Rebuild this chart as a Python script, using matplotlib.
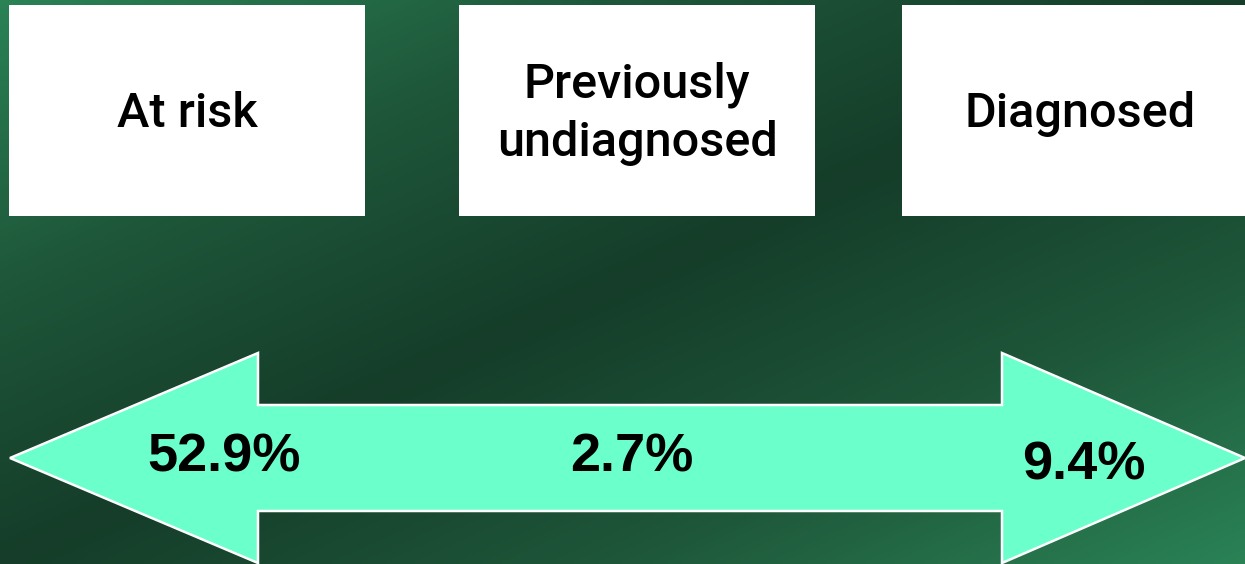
import numpy as np
import matplotlib
matplotlib.use("Agg")
import matplotlib.pyplot as plt
from matplotlib.colors import LinearSegmentedColormap
from matplotlib.patches import Polygon, Rectangle

W, H = 1245, 564

categories = ["At risk", "Previously\nundiagnosed", "Diagnosed"]
percent_labels = ["52.9%", "2.7%", "9.4%"]

fig = plt.figure(figsize=(W / 100, H / 100), dpi=100)
ax = fig.add_axes([0, 0, 1, 1])
ax.set_xlim(0, W)
ax.set_ylim(H, 0)
ax.axis("off")

# background: light at top-left and bottom-right, dark along the other diagonal
xx, yy = np.meshgrid(np.linspace(0, 1, 300), np.linspace(0, 1, 150))
t = np.abs((xx + yy) / 2 - 0.5) * 2
cmap = LinearSegmentedColormap.from_list("bg", ["#153d29", "#1e573a", "#2a8255"])
ax.imshow(t, cmap=cmap, extent=(0, W, H, 0), aspect="auto", interpolation="bicubic", zorder=0)

box_fonts = ["Roboto", "Liberation Sans", "DejaVu Sans"]
box_x = [9, 459, 902]
box_w = 356
for x0, name in zip(box_x, categories):
    ax.add_patch(Rectangle((x0, 5), box_w, 211, facecolor="white", edgecolor="none", zorder=2))
    ax.text(x0 + box_w / 2, 114, name, ha="center", va="center", fontsize=35,
            family=box_fonts, fontweight="medium", linespacing=1.32, zorder=3)

# double headed arrow
cy = 458
tip_l, tip_r = 10, 1245
head_l, head_r = 258, 1002
head_h, shaft_h = 105, 53
pts = [(tip_l, cy), (head_l, cy - head_h), (head_l, cy - shaft_h), (head_r, cy - shaft_h),
       (head_r, cy - head_h), (tip_r, cy), (head_r, cy + head_h), (head_r, cy + shaft_h),
       (head_l, cy + shaft_h), (head_l, cy + head_h)]
ax.add_patch(Polygon(pts, closed=True, facecolor="#6bffcc", edgecolor="white", linewidth=1.8, zorder=2))

label_pos = [(224, 458), (632, 458), (1084, 465)]
for (lx, ly), lab in zip(label_pos, percent_labels):
    ax.text(lx, ly, lab, ha="center", va="center", fontsize=39, fontweight="bold",
            family=["Liberation Sans", "DejaVu Sans"], color="black", zorder=3)

fig.savefig("out.png", dpi=100)
